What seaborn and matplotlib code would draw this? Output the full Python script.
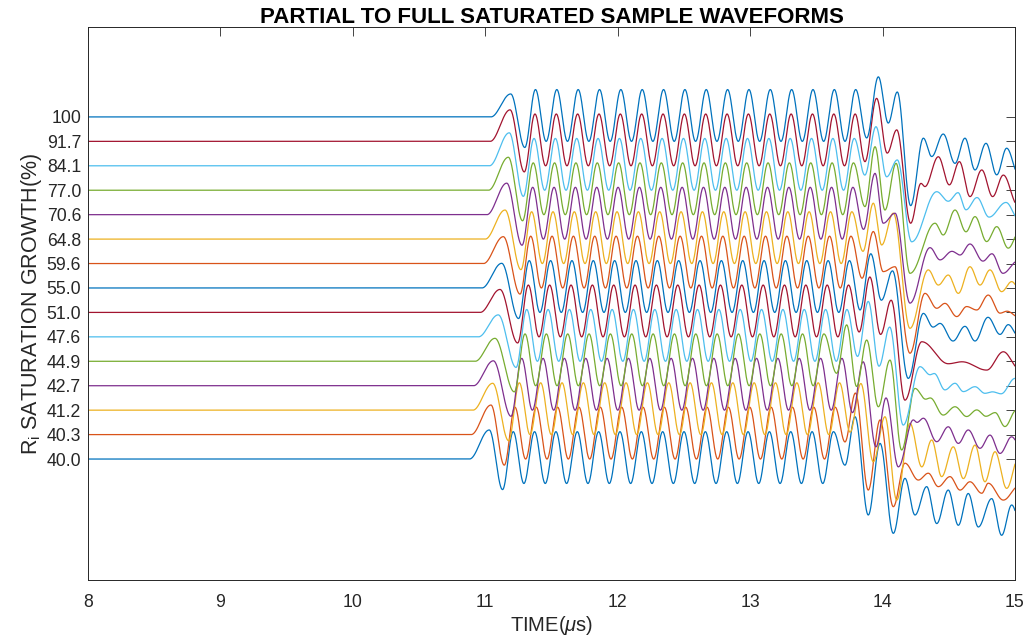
import numpy as np
import pandas as pd
import matplotlib
matplotlib.use("Agg")
import matplotlib.pyplot as plt
import seaborn as sns

# ---- saturation levels (one trace per level, bottom to top) ----
sat_labels = ["40.0", "40.3", "41.2", "42.7", "44.9", "47.6", "51.0", "55.0",
              "59.6", "64.8", "70.6", "77.0", "84.1", "91.7", "100"]

# arrival lobe of each trace: peak time (us) and height (trace units)
onset_peak_t = [11.030, 11.043, 11.056, 11.061, 11.073, 11.098, 11.111, 11.124,
                11.136, 11.149, 11.162, 11.174, 11.181, 11.187, 11.192]
onset_peak_v = [1.19, 1.21, 1.10, 1.02, 0.94, 0.90, 0.94, 1.01,
                1.10, 1.19, 1.29, 1.35, 1.35, 1.29, 0.94]

# first regular carrier peak of each trace (us)
first_peak_t = [11.211, 11.224, 11.257, 11.275, 11.300, 11.313, 11.325, 11.332,
                11.343, 11.350, 11.358, 11.362, 11.368, 11.375, 11.379]

period_us = 0.1612        # carrier period
rise_us = 0.15            # lift-off time of the arrival lobe
first_trough_v = -1.25
burst_peak_v = 1.12
burst_trough_v = -1.00

# end of burst and coda: extremum times (us) and values, per trace
tail_t = [
    [13.716, 13.792, 13.892, 13.981, 14.081, 14.169, 14.245, 14.333, 14.409, 14.496, 14.572, 14.647, 14.723, 14.824, 14.899, 14.975, 15.05],
    [13.716, 13.795, 13.892, 13.981, 14.081, 14.169, 14.270, 14.345, 14.421, 14.509, 14.585, 14.660, 14.749, 14.798, 14.912, 15.03],
    [13.755, 13.836, 13.930, 14.018, 14.107, 14.207, 14.296, 14.371, 14.446, 14.534, 14.610, 14.698, 14.773, 14.849, 14.937, 15.03],
    [13.773, 13.853, 13.950, 14.026, 14.119, 14.232, 14.260, 14.308, 14.409, 14.496, 14.572, 14.647, 14.736, 14.811, 14.887, 14.975, 15.05],
    [13.653, 13.729, 13.804, 13.880, 13.968, 14.056, 14.144, 14.245, 14.325, 14.360, 14.458, 14.547, 14.635, 14.711, 14.781, 14.850, 14.924, 15.01, 15.08],
    [13.811, 13.892, 13.973, 14.054, 14.156, 14.283, 14.358, 14.390, 14.471, 14.547, 14.610, 14.698, 14.773, 14.830, 14.895, 15.00, 15.08],
    [13.823, 13.904, 13.985, 14.065, 14.169, 14.296, 14.496, 14.600, 14.786, 14.912, 15.03],
    [13.830, 13.911, 13.991, 14.075, 14.194, 14.308, 14.381, 14.434, 14.532, 14.622, 14.698, 14.796, 14.887, 14.949, 15.03],
    [13.845, 13.930, 14.005, 14.094, 14.207, 14.320, 14.409, 14.471, 14.560, 14.635, 14.711, 14.798, 14.887, 14.940, 15.03],
    [13.852, 13.930, 13.993, 14.081, 14.207, 14.345, 14.421, 14.496, 14.572, 14.660, 14.736, 14.811, 14.899, 14.975, 15.05],
    [13.856, 13.943, 14.005, 14.094, 14.207, 14.358, 14.434, 14.524, 14.585, 14.660, 14.758, 14.826, 14.909, 15.02],
    [13.867, 13.943, 14.018, 14.102, 14.207, 14.396, 14.458, 14.547, 14.630, 14.698, 14.786, 14.862, 14.949, 15.04],
    [13.866, 13.950, 14.031, 14.111, 14.220, 14.409, 14.496, 14.570, 14.630, 14.713, 14.804, 14.932, 15.03],
    [13.867, 13.955, 14.035, 14.107, 14.212, 14.290, 14.320, 14.421, 14.504, 14.580, 14.660, 14.749, 14.831, 14.912, 15.02],
    [13.880, 13.968, 14.043, 14.111, 14.212, 14.308, 14.371, 14.458, 14.547, 14.622, 14.698, 14.781, 14.862, 14.937, 15.03],
]
tail_v = [
    [-0.25, 1.73, -2.29, 0.64, -3.04, -0.79, -2.29, -1.13, -2.64, -1.27, -2.71, -1.41, -2.78, -1.62, -3.12, -1.88, -2.80],
    [-0.30, 1.70, -2.27, 0.60, -2.95, -1.17, -1.86, -1.58, -2.13, -1.72, -2.27, -1.93, -2.40, -1.99, -2.68, -2.10],
    [-0.90, 1.09, -2.11, -0.27, -3.68, -0.54, -2.32, -1.22, -2.72, -1.50, -2.80, -1.43, -2.93, -1.70, -3.20, -1.90],
    [-1.10, 0.98, -2.50, -0.50, -3.32, -1.40, -1.50, -1.33, -2.29, -1.68, -2.36, -1.81, -2.56, -2.02, -2.77, -2.09, -2.60],
    [-0.49, 1.49, -1.03, 0.87, -1.86, 0.05, -3.63, -1.11, -1.55, -1.50, -2.20, -1.86, -2.26, -1.99, -2.25, -2.10, -2.67, -2.00, -2.40],
    [-0.80, 1.45, -1.20, 0.40, -3.61, -1.22, -1.55, -1.50, -2.17, -1.90, -2.24, -2.04, -2.31, -2.25, -2.33, -1.70, -2.20],
    [-0.80, 1.45, -0.90, 0.50, -3.59, -1.20, -2.10, -2.02, -2.36, -1.61, -2.30],
    [-0.90, 1.40, -0.50, 0.70, -3.70, -1.04, -1.60, -1.45, -2.17, -1.57, -2.17, -1.20, -1.90, -1.50, -2.00],
    [-0.60, 1.31, -0.33, -0.13, -3.67, -1.22, -1.83, -1.63, -2.17, -1.76, -1.90, -1.29, -2.03, -1.95, -2.20],
    [-0.50, 1.47, -0.24, 1.06, -3.65, -1.26, -1.88, -1.47, -2.22, -1.13, -1.88, -1.26, -2.15, -1.74, -2.20],
    [-0.60, 1.69, -0.35, 0.06, -3.62, -1.35, -1.85, -1.50, -1.65, -1.20, -1.90, -1.60, -2.40, -1.90],
    [-0.67, 1.78, -0.81, 1.10, -3.40, -1.35, -1.83, -0.81, -1.70, -1.08, -2.10, -1.49, -2.37, -1.60],
    [-0.38, 1.60, -0.45, 0.24, -3.11, -1.06, -1.45, -1.10, -1.80, -1.30, -2.10, -1.50, -2.20],
    [-0.83, 1.76, -0.48, 0.47, -3.35, -1.72, -1.85, -0.63, -1.78, -0.83, -2.26, -1.17, -2.26, -1.38, -2.60],
    [-0.86, 1.64, -0.25, 1.02, -3.63, -0.87, -1.62, -0.70, -1.90, -0.87, -2.17, -1.08, -2.37, -1.28, -2.40],
]

matlab_colors = ["#0072BD", "#D95319", "#EDB120", "#7E2F8E",
                 "#77AC30", "#4DBEEE", "#A2142F"]


def extrema(k):
    """Turning points of trace k: arrival lobe, carrier, then coda."""
    ts = [onset_peak_t[k] - rise_us, onset_peak_t[k], first_peak_t[k] - period_us / 2]
    vs = [0.0, onset_peak_v[k], first_trough_v]
    stop = tail_t[k][0] - 0.03
    n = 0
    while True:
        tp = first_peak_t[k] + n * period_us
        if tp > stop:
            ts.pop(); vs.pop()          # coda opens with a trough
            break
        ts.append(tp); vs.append(burst_peak_v)
        tt = tp + period_us / 2
        if tt > stop:
            break
        ts.append(tt); vs.append(burst_trough_v)
        n += 1
    ts += tail_t[k]
    vs += tail_v[k]
    return np.array(ts), np.array(vs)


def smooth_trace(t, ts, vs):
    """Half-cosine strokes between successive turning points."""
    y = np.zeros_like(t)
    idx = np.searchsorted(ts, t, side="right") - 1
    inside = (idx >= 0) & (idx < len(ts) - 1)
    i = idx[inside]
    s = (t[inside] - ts[i]) / (ts[i + 1] - ts[i])
    y[inside] = vs[i] + (vs[i + 1] - vs[i]) * (1 - np.cos(np.pi * s)) / 2
    y[idx >= len(ts) - 1] = vs[-1]
    return y


time = np.linspace(8.0, 15.0, 8001)
frames = []
for k, lab in enumerate(sat_labels):
    ts, vs = extrema(k)
    frames.append(pd.DataFrame({"time": time,
                                "level": k + smooth_trace(time, ts, vs),
                                "saturation": lab}))
df = pd.concat(frames, ignore_index=True)

sns.set_style("white")
plt.rcParams["font.family"] = ["Liberation Sans", "DejaVu Sans"]
plt.rcParams["mathtext.fontset"] = "custom"
plt.rcParams["mathtext.rm"] = "Liberation Sans"
plt.rcParams["mathtext.it"] = "Liberation Sans:italic"

ink = "#262626"
fig = plt.figure(figsize=(10.25, 6.38), dpi=100)
ax = fig.add_axes([88 / 1025, 1 - 580 / 638, (1015 - 88) / 1025, (580 - 27) / 638])

palette = [matlab_colors[k % len(matlab_colors)] for k in range(len(sat_labels))]
sns.lineplot(data=df, x="time", y="level", hue="saturation",
             hue_order=sat_labels, palette=palette, estimator=None,
             sort=False, linewidth=0.9, legend=False, ax=ax)

ax.set_xlim(8, 15)
ax.set_ylim(-4.95, 17.68)
ax.set_xticks(range(8, 16))
ax.set_yticks(range(len(sat_labels)))
ax.set_yticklabels(sat_labels)
ax.tick_params(direction="in", top=True, right=True, length=6.5, width=0.6,
               labelsize=12.7, colors=ink)
ax.tick_params(axis="x", pad=10)
ax.tick_params(axis="y", pad=5)
for sp in ax.spines.values():
    sp.set_visible(True)
    sp.set_color(ink)
    sp.set_linewidth(0.7)

ax.set_xlabel(r"TIME($\mu$s)", fontsize=14.5, color=ink, labelpad=2)
ax.set_ylabel(r"R$_{\mathrm{i}}$ SATURATION GROWTH(%)", fontsize=15.5, color=ink, labelpad=2)
ax.set_title("PARTIAL TO FULL SATURATED SAMPLE WAVEFORMS", fontsize=16,
             fontweight="bold", color="black", pad=3)

fig.savefig("out.png", dpi=100)
